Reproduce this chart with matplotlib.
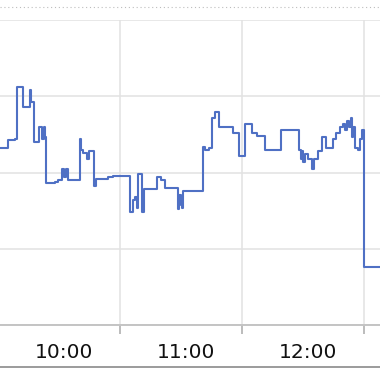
import matplotlib
matplotlib.use("Agg")
import matplotlib.pyplot as plt
from matplotlib.lines import Line2D
import matplotlib.transforms as mtransforms

# intraday price, minutes after 10:00 (step starts) and price
minutes = [0.9, 4.8, 8.3, 9.2, 12.2, 15.6, 16.1, 17.6, 20.1, 21.6, 22.5, 23.0,
           23.5, 28.0, 29.4, 31.4, 32.4, 33.4, 34.4, 40.3, 40.8, 41.8, 43.7,
           44.7, 47.2, 48.2, 54.1, 56.5, 64.9, 66.4, 67.4, 68.4, 68.9, 70.8,
           71.8, 78.2, 80.2, 82.2, 88.6, 89.1, 90.1, 90.6, 91.0, 100.9, 101.9,
           103.8, 105.3, 106.8, 108.8, 115.7, 118.6, 121.6, 125.0, 127.5,
           131.5, 139.3, 148.2, 149.2, 149.7, 150.2, 151.2, 152.7, 154.6,
           155.6, 157.6, 159.6, 161.5, 165.0, 166.5, 168.4, 169.9, 170.9,
           171.9, 172.9, 173.9, 174.3, 174.8, 175.8, 177.3, 178.3, 179.3,
           180.2, 192.0]
prices = [3.516, 3.521, 3.522, 3.556, 3.543, 3.554, 3.546, 3.520, 3.530, 3.522,
          3.530, 3.523, 3.493, 3.494, 3.495, 3.502, 3.497, 3.502, 3.495, 3.522,
          3.515, 3.513, 3.509, 3.514, 3.491, 3.496, 3.497, 3.498, 3.474, 3.482,
          3.484, 3.477, 3.499, 3.474, 3.489, 3.497, 3.495, 3.490, 3.476, 3.485,
          3.479, 3.477, 3.488, 3.517, 3.515, 3.516, 3.536, 3.540, 3.530, 3.526,
          3.511, 3.532, 3.526, 3.524, 3.515, 3.528, 3.515, 3.509, 3.514, 3.507,
          3.512, 3.509, 3.502, 3.509, 3.514, 3.523, 3.516, 3.522, 3.526, 3.530,
          3.532, 3.528, 3.534, 3.530, 3.536, 3.523, 3.530, 3.516, 3.515, 3.522,
          3.528, 3.438, 3.438]

hour_ticks = [60, 120, 180]
hour_label_pos = [32.5, 92.5, 152.5]
hour_labels = ["10:00", "11:00", "12:00"]
price_grid = [3.40, 3.45, 3.50, 3.55, 3.60]
price_labels = ["3.40", "3.45", "3.50", "3.55"]

fig = plt.figure(figsize=(3.8, 3.72), dpi=100)
ax = fig.add_axes([0, 47 / 372, 1, 305 / 372])

ax.plot(minutes, prices, drawstyle="steps-post", color="#4f70c4", lw=1.5, zorder=3)

ax.set_xlim(0.86, 188.1)
ax.set_ylim(3.40, 3.60)

for spine in ["top", "left", "right"]:
    ax.spines[spine].set_visible(False)
ax.spines["bottom"].set_color("#c4c4c4")
ax.spines["bottom"].set_linewidth(1.4)

ax.set_yticks(price_grid)
ax.tick_params(axis="y", length=0, labelleft=False)
ax.set_xticks(hour_ticks)
ax.tick_params(axis="x", direction="out", length=6.5, width=1.1, color="#aaaaaa",
               labelbottom=False)
ax.grid(True, color="#e2e2e2", lw=1.1)
ax.set_axisbelow(True)

for pos, lab in zip(hour_label_pos, hour_labels):
    ax.text(pos, -0.09, lab, transform=ax.get_xaxis_transform(),
            ha="center", va="center", fontsize=14.5, color="#111111",
            family="DejaVu Sans")

# right axis labels, mostly cut off by the image edge
shift = mtransforms.offset_copy(ax.transData, fig=fig, x=0, y=15, units="dots")
for val, lab in zip(price_grid, price_labels):
    ax.text(188.1 - 1.0, val, lab, transform=mtransforms.blended_transform_factory(
        ax.transData, shift), ha="left", va="center", fontsize=14.5,
        color="#444444", clip_on=False)

# dotted line at the top and rule at the bottom
fig.add_artist(Line2D([0, 1], [1 - 7 / 372] * 2, transform=fig.transFigure,
                      color="#bdbdbd", lw=0.8, ls=(0, (1, 2.5))))
fig.add_artist(Line2D([0, 1], [1 - 367 / 372] * 2, transform=fig.transFigure,
                      color="#8a8a8a", lw=1.2))

fig.savefig("out.png", dpi=100)
